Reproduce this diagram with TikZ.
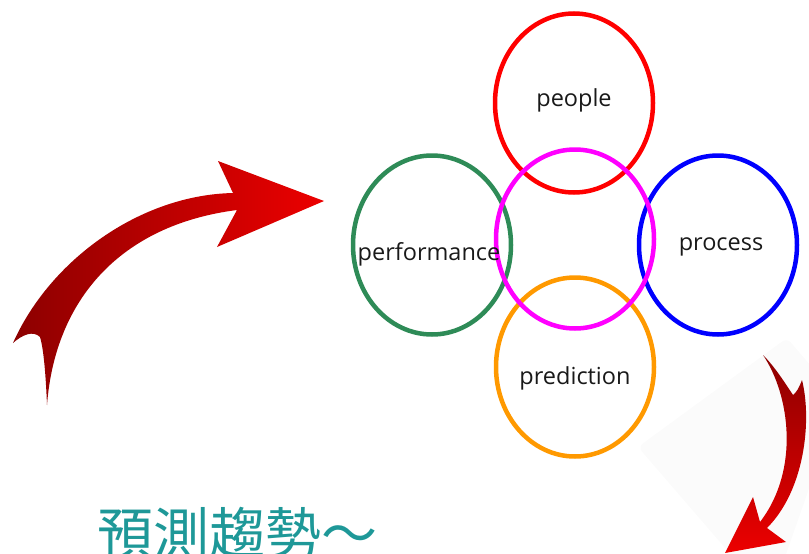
\documentclass[tikz,border=0pt]{standalone}
\usepackage{fontspec}
\newfontfamily\labelfont{Open Sans}
\newfontfamily\cjkfont{Noto Sans CJK TC}
\usetikzlibrary{shapes,shapes.geometric}
\definecolor{trendteal}{RGB}{30,152,152}
\definecolor{ringgreen}{RGB}{46,139,87}
\definecolor{ringorange}{RGB}{255,153,0}
\definecolor{ringpink}{RGB}{255,0,255}
\definecolor{arrowdark}{RGB}{140,0,0}
\definecolor{arrowlight}{RGB}{236,0,0}
\definecolor{backdrop}{RGB}{251,251,251}
\tikzset{ring/.style={draw, ellipse, line width=4.5pt, minimum width=158pt, minimum height=179pt, inner sep=0pt},
word/.style={font=\labelfont\fontsize{23.5}{28}\selectfont, text=black!90, anchor=base, inner sep=0pt}
}

\begin{document}
\begin{tikzpicture}[x=1pt, y=-1pt]
            \useasboundingbox (0,0) rectangle (809,554);
            % faint square behind the lower arrow
            \fill[backdrop, rounded corners=6pt] (638,447) -- (787,338) -- (840,400) -- (770,600) -- cycle;
            \shade[left color=arrowdark, right color=arrowlight]
                (324,201) -- (218,161) -- (233,193)
                .. controls (140,195) and (50,260) .. (13,343)
                .. controls (22,335) and (33,330) .. (40,337)
                .. controls (44,350) and (46,380) .. (47,405)
                .. controls (55,300) and (120,225) .. (237,210)
                -- (217,247) -- cycle;
            \shade[top color=arrowdark, bottom color=arrowlight]
                (763,355) .. controls (790,395) and (800,470) .. (760,522)
                -- (753,497) -- (725,553) -- (786,542) -- (767,528)
                .. controls (805,490) and (812,420) .. (802,380)
                .. controls (799,388) and (796,393) .. (793,395)
                .. controls (785,383) and (775,367) .. cycle;
            \node[ring, draw=red] (people) at (574,103) {};
            \node[ring, draw=ringgreen] (performance) at (432,245) {};
            \node[ring, draw=blue] (process) at (718,245) {};
            \node[ring, draw=ringorange] (prediction) at (575,367) {};
            \node[ring, draw=ringpink] (core) at (575,239) {};
            \node[word] (tpeople) at (574,106) {people};
            \node[word] (tperformance) at (429,260) {performance};
            \node[word] (tprocess) at (721,250) {process};
            \node[word] (tprediction) at (575,384) {prediction};
            \node[anchor=base west, inner sep=0pt, text=trendteal, font=\cjkfont\fontsize{56}{60}\selectfont] (trend) at (97,554) {預測趨勢～};
        \end{tikzpicture}
\end{document}
